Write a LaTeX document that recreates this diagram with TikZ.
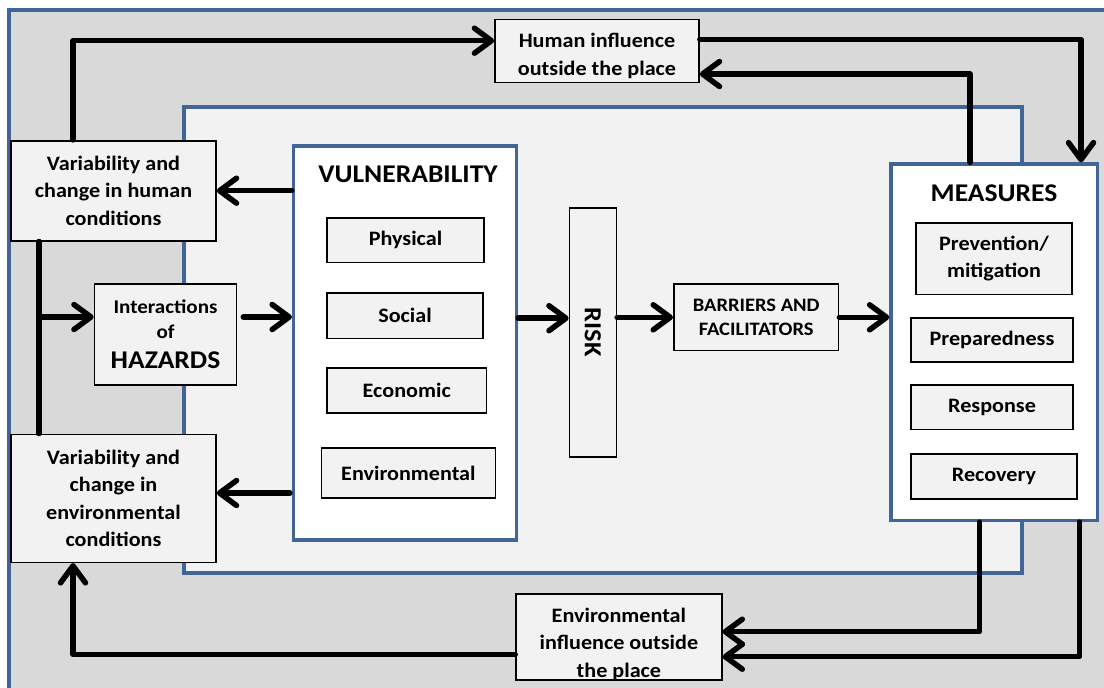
\documentclass[tikz,border=0pt]{standalone}
\usepackage{fontspec}
\setmainfont{Carlito}[FakeStretch=1.08]
\usetikzlibrary{arrows.meta,calc}
\definecolor{frameblue}{RGB}{65,101,150}
\definecolor{outergray}{RGB}{217,217,217}
\definecolor{panelgray}{RGB}{242,242,242}
\begin{document}
\begin{tikzpicture}[x=1pt,y=-1pt,
  font=\bfseries\fontsize{20.5}{27.5}\selectfont,
  box/.style={draw=black, line width=1.6pt, fill=panelgray, inner sep=0pt, align=center},
  panel/.style={draw=frameblue, line width=3.2pt, fill=white, inner sep=0pt},
  bigtxt/.style={font=\bfseries\fontsize{25.5}{30}\selectfont},
  arr/.style={line width=5.5pt, line cap=round, line join=round, -{Straight Barb[length=17pt,width=25pt,round]}},
  conn/.style={line width=5.5pt, line cap=round, line join=round}]
\useasboundingbox (0,0) rectangle (1104,688);
\fill[white] (0,0) rectangle (1104,688);
\fill[outergray] (9,10) rectangle (1104,688);
\draw[frameblue, line width=3.2pt] (9,688) -- (9,10) -- (1104,10);
% inner light panel
\node[panel, fill=panelgray, minimum width=838pt, minimum height=466pt] (inner) at (603,340) {};
% outer boxes
\node[box, minimum width=204pt, minimum height=63pt,
  label={[name=humantxt, align=center, yshift=-5pt]center:{\bfseries\fontsize{20.5}{27}\selectfont Human influence\\outside the place}}] (human) at (597,51) {};
\node[box, minimum width=205pt, minimum height=100pt] (varhum) at (113.5,190.7) {Variability and\\change in human\\conditions};
\node[box, minimum width=205pt, minimum height=128pt] (varenv) at (113.5,498.3) {Variability and\\change in\\environmental\\conditions};
\node[box, minimum width=142pt, minimum height=101pt, font=\bfseries\fontsize{19.5}{25}\selectfont] (haz) at (165.5,334.5) {Interactions\\of\\[5pt]{\fontsize{25.5}{30}\selectfont HAZARDS}};
% vulnerability panel
\node[panel, minimum width=223pt, minimum height=394pt] (vuln) at (405,342.9) {};
\node[bigtxt] (vulntitle) at (408,174) {VULNERABILITY};
\node[box, minimum width=157pt, minimum height=44.5pt] (phys) at (405.5,240.2) {Physical};
\node[box, minimum width=156pt, minimum height=45.6pt] (soc) at (405,315.5) {Social};
\node[box, minimum width=159.4pt, minimum height=45pt] (econ) at (406.7,390.2) {Economic};
\node[box, minimum width=174pt, minimum height=50.3pt] (envl) at (408.4,472.9) {Environmental};
% risk and barriers
\node[box, minimum width=46.8pt, minimum height=249pt,
  label={[name=risktxt, rotate=-90]center:{\bfseries\fontsize{24.5}{27}\selectfont RISK}}] (risk) at (592.9,332.2) {};
\node[box, minimum width=164.8pt, minimum height=66.7pt, font=\bfseries\fontsize{19}{24}\selectfont] (bar) at (756.2,317.3) {BARRIERS AND\\FACILITATORS};
% measures panel
\node[panel, minimum width=206.5pt, minimum height=356.5pt] (meas) at (994.2,342.2) {};
\node[bigtxt] (meastitle) at (994,193) {MEASURES};
\node[box, minimum width=156pt, minimum height=71.6pt] (prev) at (994,258.5) {Prevention/\\mitigation};
\node[box, minimum width=162pt, minimum height=44pt] (prep) at (992,339.7) {Preparedness};
\node[box, minimum width=162pt, minimum height=44.3pt] (resp) at (992,407.2) {Response};
\node[box, minimum width=166pt, minimum height=44.7pt] (recov) at (994,476.6) {Recovery};
% environmental influence
\node[box, minimum width=205.7pt, minimum height=86pt,
  label={[name=envinftxt, align=center, yshift=-7pt]center:{\bfseries\fontsize{20.5}{27.5}\selectfont Environmental\\influence outside\\the place}}] (envinf) at (618.9,637) {};
% coordinates
\coordinate (hzin) at ([yshift=17.5pt]haz.west);
\coordinate (vx) at ([xshift=-74.5pt]varhum.south);
\coordinate (ve) at ([yshift=5.3pt]varenv.east);
\coordinate (rk) at ([yshift=14pt]risk.west);
% connectors
\draw[arr] ([xshift=-40.5pt]varhum.north) |- ([yshift=10.3pt]human.west);
\draw[arr] ([yshift=11.7pt]human.east) -| ([xshift=86.8pt]meas.north);
\draw[arr] ([xshift=-24.2pt]meas.north) |- ([yshift=-23pt]human.east);
\draw[arr] (vuln.west |- varhum.east) -- (varhum.east);
\draw[conn] (vx) -- (vx |- varenv.north);
\draw[arr] (vx |- hzin) -- (hzin);
\draw[arr, shorten <=6pt] (haz.east |- hzin) -- (vuln.west |- hzin);
\draw[arr, shorten <=2pt] (vuln.west |- ve) -- (ve);
\draw[arr] (vuln.east |- rk) -- (rk);
\draw[arr] (risk.east |- bar.west) -- (bar.west);
\draw[arr] (bar.east) -- (meas.west |- bar.east);
\draw[arr] ([xshift=-14.6pt]meas.south) |- ([yshift=5.3pt]envinf.east);
\draw[arr] ([xshift=85.4pt]meas.south) |- ([yshift=-19.7pt]envinf.east);
\draw[arr] ([yshift=-17.3pt]envinf.west) -| ([xshift=-40.5pt]varenv.south);
\end{tikzpicture}
\end{document}
